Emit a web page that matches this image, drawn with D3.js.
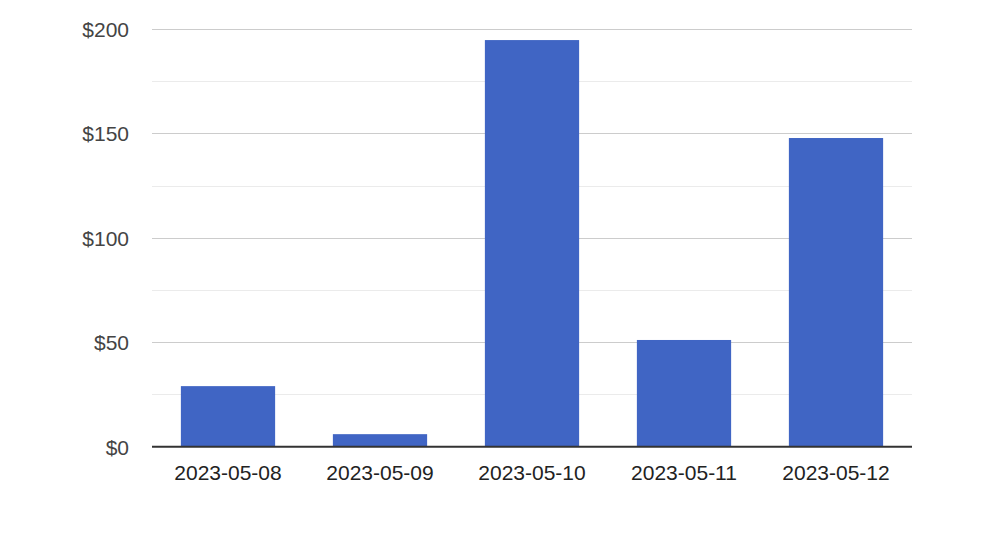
<!DOCTYPE html>
<html><head><meta charset="utf-8">
<script src="https://cdn.jsdelivr.net/npm/d3@7"></script>
<style>body{margin:0;background:#fff}svg{display:block}</style>
</head><body><svg id="c" width="1008" height="542"></svg>
<script>
const categories = ["2023-05-08","2023-05-09","2023-05-10","2023-05-11","2023-05-12"];
const values = [29, 6, 194.7, 51.1, 147.8];
const yTicks = [0, 50, 100, 150, 200];
const yMinor = [25, 75, 125, 175];

(function(){
const svg = d3.select("#c");
const pL = 152, pR = 912, pT = 29, pB = 446.7;
const x = d3.scaleBand().domain(categories).range([pL, pR]).paddingInner(0.38).paddingOuter(0.19);
const y = d3.scaleLinear().domain([0, 200]).range([pB, pT]);

svg.append("g").selectAll("line").data(yMinor).join("line")
  .attr("x1", pL).attr("x2", pR)
  .attr("y1", d => Math.round(y(d)) + 0.5).attr("y2", d => Math.round(y(d)) + 0.5)
  .attr("stroke", "#ebebeb").attr("stroke-width", 1);
svg.append("g").selectAll("line").data(yTicks.filter(d => d > 0)).join("line")
  .attr("x1", pL).attr("x2", pR)
  .attr("y1", d => Math.round(y(d)) + 0.5).attr("y2", d => Math.round(y(d)) + 0.5)
  .attr("stroke", "#cccccc").attr("stroke-width", 1);

svg.append("g").selectAll("rect").data(categories).join("rect")
  .attr("x", d => x(d)).attr("width", x.bandwidth())
  .attr("y", (d, i) => y(values[i])).attr("height", (d, i) => y(0) - y(values[i]))
  .attr("fill", "#4065c4");

svg.append("line").attr("x1", pL).attr("x2", pR)
  .attr("y1", y(0)).attr("y2", y(0)).attr("stroke", "#333").attr("stroke-width", 2);

const yAxis = d3.axisLeft(y).tickValues(yTicks).tickSize(0).tickPadding(0).tickFormat(d => "$" + d);
const ga = svg.append("g").attr("transform", "translate(129,0)").call(yAxis);
ga.select(".domain").remove();
ga.selectAll("text").attr("font-family", "Arial, 'Liberation Sans', sans-serif")
  .attr("font-size", 21).attr("fill", "#444").attr("dy", "0.36em");

const xAxis = d3.axisBottom(x).tickSize(0).tickPadding(0);
const gx = svg.append("g").attr("transform", `translate(0,${pB})`).call(xAxis);
gx.select(".domain").remove();
gx.selectAll("text").attr("font-family", "Arial, 'Liberation Sans', sans-serif")
  .attr("font-size", 21).attr("fill", "#222").attr("y", 33).attr("dy", 0);
})();
</script></body></html>
